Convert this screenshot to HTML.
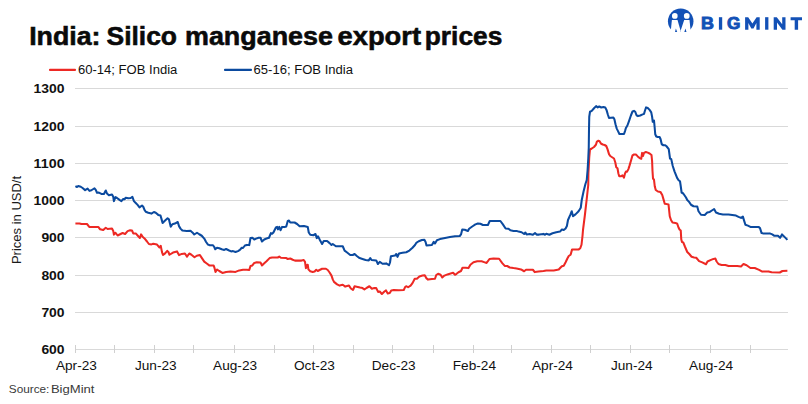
<!DOCTYPE html>
<html><head><meta charset="utf-8"><title>India: Silico manganese export prices</title>
<style>
html,body{margin:0;padding:0;background:#fff;}
body{width:808px;height:404px;overflow:hidden;font-family:"Liberation Sans",sans-serif;}
svg{display:block;position:absolute;left:0;top:0;}
text{font-family:"Liberation Sans",sans-serif;}
</style></head><body>
<svg width="808" height="404" viewBox="0 0 808 404">
<rect width="808" height="404" fill="#fff"/>
<g font-size="25" font-weight="bold" fill="#0a0a0a" stroke="#0a0a0a" stroke-width="0.55">
<text x="29.2" y="44.6" textLength="71.3" lengthAdjust="spacingAndGlyphs">India:</text>
<text x="106.5" y="44.6" textLength="70.5" lengthAdjust="spacingAndGlyphs">Silico</text>
<text x="185" y="44.6" textLength="148" lengthAdjust="spacingAndGlyphs">manganese</text>
<text x="337.5" y="44.6" textLength="83.5" lengthAdjust="spacingAndGlyphs">export</text>
<text x="424.8" y="44.6" textLength="77.5" lengthAdjust="spacingAndGlyphs">prices</text>
</g>
<g stroke="#d9d9d9" stroke-width="1" shape-rendering="crispEdges"><line x1="75" y1="88.5" x2="788.0" y2="88.5"/><line x1="75" y1="126.5" x2="788.0" y2="126.5"/><line x1="75" y1="163.5" x2="788.0" y2="163.5"/><line x1="75" y1="200.5" x2="788.0" y2="200.5"/><line x1="75" y1="237.5" x2="788.0" y2="237.5"/><line x1="75" y1="275.5" x2="788.0" y2="275.5"/><line x1="75" y1="312.5" x2="788.0" y2="312.5"/><line x1="75" y1="349.5" x2="788.0" y2="349.5"/></g>
<g stroke="#d0d0d0" stroke-width="1" shape-rendering="crispEdges"><line x1="75.5" y1="345" x2="75.5" y2="353"/><line x1="114.5" y1="345" x2="114.5" y2="353"/><line x1="154.5" y1="345" x2="154.5" y2="353"/><line x1="193.5" y1="345" x2="193.5" y2="353"/><line x1="234.5" y1="345" x2="234.5" y2="353"/><line x1="274.5" y1="345" x2="274.5" y2="353"/><line x1="313.5" y1="345" x2="313.5" y2="353"/><line x1="353.5" y1="345" x2="353.5" y2="353"/><line x1="392.5" y1="345" x2="392.5" y2="353"/><line x1="433.5" y1="345" x2="433.5" y2="353"/><line x1="473.5" y1="345" x2="473.5" y2="353"/><line x1="511.5" y1="345" x2="511.5" y2="353"/><line x1="551.5" y1="345" x2="551.5" y2="353"/><line x1="590.5" y1="345" x2="590.5" y2="353"/><line x1="630.5" y1="345" x2="630.5" y2="353"/><line x1="669.5" y1="345" x2="669.5" y2="353"/><line x1="710.5" y1="345" x2="710.5" y2="353"/><line x1="750.5" y1="345" x2="750.5" y2="353"/></g>
<g font-size="12.4" font-weight="bold" fill="#111"><text x="33.6" y="93.00" textLength="31" lengthAdjust="spacingAndGlyphs" transform="translate(0,0)">1300</text><text x="33.6" y="131.00" textLength="31" lengthAdjust="spacingAndGlyphs" transform="translate(0,0)">1200</text><text x="33.6" y="168.00" textLength="31" lengthAdjust="spacingAndGlyphs" transform="translate(0,0)">1100</text><text x="33.6" y="205.00" textLength="31" lengthAdjust="spacingAndGlyphs" transform="translate(0,0)">1000</text><text x="33.6" y="242.00" textLength="23.2" lengthAdjust="spacingAndGlyphs" transform="translate(7.8,0)">900</text><text x="33.6" y="280.00" textLength="23.2" lengthAdjust="spacingAndGlyphs" transform="translate(7.8,0)">800</text><text x="33.6" y="317.00" textLength="23.2" lengthAdjust="spacingAndGlyphs" transform="translate(7.8,0)">700</text><text x="33.6" y="354.00" textLength="23.2" lengthAdjust="spacingAndGlyphs" transform="translate(7.8,0)">600</text></g>
<g font-size="12.4" fill="#111"><text transform="translate(76.40,370) scale(1.10,1)" text-anchor="middle">Apr-23</text><text transform="translate(155.74,370) scale(1.10,1)" text-anchor="middle">Jun-23</text><text transform="translate(235.07,370) scale(1.10,1)" text-anchor="middle">Aug-23</text><text transform="translate(314.41,370) scale(1.10,1)" text-anchor="middle">Oct-23</text><text transform="translate(393.74,370) scale(1.10,1)" text-anchor="middle">Dec-23</text><text transform="translate(474.38,370) scale(1.10,1)" text-anchor="middle">Feb-24</text><text transform="translate(552.41,370) scale(1.10,1)" text-anchor="middle">Apr-24</text><text transform="translate(631.75,370) scale(1.10,1)" text-anchor="middle">Jun-24</text><text transform="translate(711.08,370) scale(1.10,1)" text-anchor="middle">Aug-24</text></g>
<text transform="translate(21.3,220) rotate(-90)" font-size="13" fill="#1a1a1a" text-anchor="middle">Prices in USD/t</text>
<line x1="50" y1="69.9" x2="75" y2="69.9" stroke="#ed2924" stroke-width="2.1" stroke-linecap="round"/>
<text x="78" y="74" font-size="13.05" fill="#111">60-14; FOB India</text>
<line x1="225" y1="69.9" x2="251" y2="69.9" stroke="#0b4a9f" stroke-width="2.1" stroke-linecap="round"/>
<text x="253.6" y="74" font-size="13.05" fill="#111">65-16; FOB India</text>
<polyline points="75.40,223.40 79.50,223.40 81.40,224.00 87.00,224.00 89.25,226.90 98.25,226.90 100.10,229.25 103.25,230.00 105.75,227.75 107.60,229.00 112.00,228.60 113.25,230.90 113.90,234.60 115.50,232.75 117.60,235.50 120.10,234.25 122.60,233.00 125.10,234.00 127.60,231.10 130.10,230.25 132.00,230.50 133.25,233.40 135.75,233.40 137.60,235.50 139.90,238.00 141.10,234.40 142.60,236.75 144.50,238.40 147.00,241.50 148.90,244.00 151.40,244.40 153.25,243.75 157.00,244.60 159.50,247.50 160.75,245.90 162.00,252.10 163.00,255.00 165.10,253.40 167.25,250.90 168.40,252.00 169.50,254.75 173.00,252.60 177.00,251.40 179.00,255.10 181.75,253.90 184.90,253.50 187.00,256.60 189.25,253.50 191.10,254.50 194.50,257.25 196.75,255.75 199.90,255.10 201.75,257.90 204.25,261.60 206.75,263.50 209.25,265.40 213.60,265.40 214.50,267.90 215.50,272.00 217.00,269.50 219.25,271.00 222.40,272.90 226.10,272.00 230.50,271.60 235.50,271.90 239.25,270.40 243.00,269.75 246.75,269.75 249.25,270.00 250.50,266.00 252.40,265.40 254.25,262.90 256.75,262.25 260.50,262.60 262.00,265.40 264.00,263.50 266.50,261.25 269.60,258.10 272.10,257.50 277.75,257.50 279.25,256.60 280.90,257.75 285.90,257.90 287.75,259.00 290.25,258.50 292.75,259.75 295.00,260.60 301.50,260.60 303.75,260.00 305.00,261.90 305.90,268.10 306.75,265.25 307.75,264.75 308.40,269.40 310.25,271.25 312.75,271.90 314.60,271.50 316.25,269.75 317.75,271.00 319.60,270.00 322.10,268.75 325.90,268.75 327.75,270.00 329.60,272.50 331.50,275.60 332.75,279.40 334.00,281.90 337.10,284.40 339.60,285.60 342.75,284.75 345.25,286.60 349.00,285.60 350.90,288.50 353.00,290.00 354.60,286.25 357.75,286.90 360.00,287.60 362.50,288.10 364.40,289.40 366.90,287.75 369.40,286.25 371.90,288.75 373.75,288.10 376.25,288.10 378.10,291.90 379.75,291.50 381.90,294.00 384.40,291.50 386.00,290.40 387.75,293.50 389.75,293.10 391.25,290.40 393.75,290.00 398.75,290.25 403.75,290.00 405.25,286.90 406.50,286.25 408.10,287.25 410.60,285.60 412.50,283.10 414.75,278.75 416.90,278.75 419.40,276.50 422.50,275.60 424.75,275.25 426.25,278.10 428.10,279.60 431.90,279.10 435.00,278.75 436.25,275.00 438.10,273.75 440.60,274.75 442.25,277.50 444.40,275.60 447.50,274.40 450.60,273.40 453.10,272.75 455.00,274.75 456.60,273.80 458.50,272.25 461.00,271.00 462.50,267.75 465.40,267.75 468.50,268.10 470.40,264.75 473.50,262.25 477.25,261.25 481.60,261.25 484.10,262.10 486.60,262.90 489.50,259.00 493.50,258.50 499.10,258.75 502.25,263.10 504.75,265.90 507.25,266.00 509.75,267.50 513.50,268.10 516.60,268.40 521.00,269.40 524.10,271.25 526.00,269.75 532.90,269.75 534.75,272.10 538.50,271.60 543.50,270.90 546.25,270.40 553.75,270.40 558.75,269.50 560.60,267.50 561.90,266.25 563.75,265.75 565.60,262.25 567.50,258.25 568.75,256.00 570.60,254.75 572.10,249.40 578.75,249.40 580.25,248.25 581.50,244.75 582.50,236.00 583.00,230.00 584.90,215.00 586.75,198.75 588.25,185.00 588.40,173.50 589.25,157.25 590.00,149.50 591.75,148.50 594.00,147.00 595.90,144.75 596.90,141.60 598.40,140.75 599.60,141.25 600.90,143.50 602.75,144.50 604.60,145.00 606.25,146.00 607.50,149.10 609.00,154.10 610.25,156.00 612.10,157.25 614.00,158.50 615.25,162.25 616.25,167.25 617.50,168.25 618.40,173.50 619.25,176.25 620.90,176.25 622.50,175.40 624.00,177.60 625.00,173.50 625.90,171.60 627.10,171.60 628.40,169.10 629.60,165.40 631.25,159.75 632.50,155.40 634.00,154.50 635.90,154.50 637.75,156.40 639.60,158.10 641.25,158.75 642.10,152.90 643.00,156.00 644.00,152.90 645.90,152.00 647.75,152.60 649.60,153.50 651.50,155.00 652.10,161.00 652.50,171.00 653.00,178.50 654.00,179.75 654.75,186.25 655.75,190.00 657.90,191.50 660.40,191.90 662.25,195.00 663.50,199.40 664.75,203.75 666.60,204.10 668.50,204.40 669.10,210.00 669.75,216.25 671.00,220.00 672.50,222.50 675.40,222.90 677.25,223.75 678.50,227.50 679.50,229.50 680.75,230.50 681.25,239.25 682.00,242.00 683.25,242.40 685.00,246.75 687.25,252.00 689.50,254.25 691.60,256.75 694.10,257.40 696.25,257.75 699.10,261.10 702.25,262.40 706.00,264.25 707.50,261.50 711.00,259.90 713.50,258.90 715.40,258.60 716.60,261.50 718.50,264.00 721.60,264.90 725.40,265.10 728.50,266.10 737.25,265.90 741.00,266.40 743.50,264.00 746.60,265.25 750.40,268.00 754.75,268.00 759.10,269.90 762.25,271.60 768.50,271.40 771.60,272.30 779.80,272.50 782.40,271.00 787.40,270.80" fill="none" stroke="#ed2924" stroke-width="2.05" stroke-linejoin="round" stroke-linecap="butt"/>
<polyline points="75.40,186.10 77.00,187.00 78.25,186.10 80.75,186.75 82.60,188.00 85.10,190.10 87.60,188.60 89.50,190.90 91.40,190.25 94.50,188.25 95.75,189.90 97.00,192.75 98.90,192.60 101.40,193.90 103.90,194.00 105.75,190.50 107.00,193.60 108.90,195.25 112.00,194.50 113.25,196.75 113.90,201.10 115.50,197.10 117.00,198.00 119.50,199.90 121.40,201.10 123.25,199.00 124.50,199.25 125.75,197.75 128.25,198.25 130.75,198.00 132.40,196.75 133.90,201.10 135.75,203.00 137.60,204.90 139.50,207.40 142.00,205.50 143.25,206.75 144.50,209.90 145.75,211.75 148.25,212.75 151.40,213.60 153.90,212.00 155.75,212.75 158.25,214.90 160.50,215.50 161.40,218.60 162.60,223.00 165.10,220.50 167.60,218.25 168.90,219.25 170.75,226.75 172.40,224.25 174.90,223.60 177.75,222.00 179.00,226.10 180.50,228.60 182.40,230.50 186.75,230.90 190.50,230.75 192.40,232.40 194.25,234.50 197.00,232.75 199.25,234.25 201.75,235.75 204.25,238.60 206.10,242.00 208.00,244.60 209.90,245.25 213.00,245.25 214.25,247.00 215.25,249.25 217.00,247.75 219.25,248.25 221.75,249.25 224.25,249.90 226.10,249.00 228.60,250.25 231.10,251.40 233.00,251.10 235.50,252.00 238.00,251.10 239.90,249.90 241.75,247.75 243.00,248.00 244.90,245.50 246.75,244.90 249.25,245.10 250.50,238.00 252.40,237.75 254.25,239.50 256.10,238.60 258.60,237.75 260.50,237.75 262.00,241.50 264.25,239.50 266.50,238.50 269.00,237.75 270.90,233.10 272.10,233.75 273.40,232.50 275.90,227.50 277.10,226.90 278.00,229.40 279.25,226.90 280.50,230.25 282.10,226.90 284.60,227.10 286.25,226.50 287.75,221.00 289.00,220.60 290.25,222.50 294.60,222.50 297.10,224.00 299.60,226.25 304.00,226.00 307.75,226.90 308.75,232.50 310.25,234.75 313.40,235.25 315.50,234.00 316.75,238.10 318.00,236.25 319.60,239.40 322.10,244.00 323.75,241.00 327.10,241.00 329.60,243.10 331.50,245.00 332.75,244.00 335.90,246.25 342.75,246.25 344.60,250.60 347.10,252.50 350.25,255.00 352.75,255.00 354.60,254.00 357.10,256.25 359.60,258.10 362.50,259.00 365.60,260.00 368.75,260.40 370.25,258.10 371.50,260.00 376.25,260.40 377.90,264.00 379.75,261.90 382.50,263.75 386.25,263.40 389.00,265.25 390.00,262.50 390.90,256.25 395.00,255.60 396.25,254.00 397.50,256.90 399.00,253.50 402.50,252.75 406.25,252.25 409.40,250.60 412.50,247.75 415.00,245.00 416.25,242.90 418.75,241.25 421.90,240.00 424.40,239.75 425.60,241.90 426.50,245.40 431.90,245.00 433.75,241.90 435.00,243.50 436.90,240.25 440.00,239.10 445.00,237.90 450.00,237.10 455.00,236.25 459.75,236.00 461.00,234.40 462.25,229.60 464.75,229.75 467.90,231.00 469.10,228.75 472.25,226.50 475.40,224.40 477.90,223.50 480.40,223.75 482.90,225.00 487.90,225.00 489.75,221.00 500.40,221.00 502.90,224.40 505.60,228.50 508.50,228.75 510.40,230.25 513.50,230.90 516.60,230.90 518.50,231.60 521.60,232.25 524.10,234.00 525.40,232.50 526.60,234.40 529.75,234.00 532.90,234.75 535.00,233.10 536.60,234.60 539.10,234.60 543.50,233.90 545.00,234.75 546.25,233.75 549.40,234.75 552.50,233.25 556.25,232.25 560.00,231.60 561.90,229.50 563.75,230.00 565.60,228.50 566.90,226.00 568.00,220.00 570.50,214.40 571.75,211.25 573.00,216.25 575.50,214.40 578.60,211.25 580.75,207.75 581.75,200.00 583.60,191.25 585.50,183.75 586.75,180.00 587.60,170.00 588.30,158.00 588.75,148.00 589.00,129.25 589.25,116.75 590.00,111.75 591.75,110.90 594.00,108.25 596.10,106.10 597.75,107.40 599.25,106.50 601.25,107.50 603.40,107.00 605.25,107.60 606.50,109.90 607.75,114.25 609.00,118.00 610.90,117.75 613.40,117.60 614.40,119.25 615.50,124.25 616.75,128.60 618.00,131.10 619.40,134.00 621.50,133.90 624.00,134.00 625.00,131.10 625.90,128.00 627.40,125.50 629.00,121.10 630.90,115.50 632.50,111.50 634.00,110.90 635.25,111.75 636.50,115.25 638.00,116.10 640.25,115.50 642.10,114.60 644.00,113.90 645.00,110.50 646.10,107.40 647.75,108.00 649.60,109.90 651.25,112.40 652.10,116.75 652.75,121.75 654.00,120.50 654.60,126.75 655.25,134.25 656.25,136.50 657.75,137.00 659.60,137.00 660.60,139.25 661.75,144.25 663.40,145.25 665.25,145.25 666.50,146.25 668.75,149.10 670.00,158.50 671.25,159.10 672.75,166.00 674.60,171.60 677.10,177.90 678.60,180.20 680.00,181.25 680.75,186.25 681.60,192.50 683.25,193.50 686.00,197.50 687.25,200.00 689.10,201.90 691.00,204.75 693.50,206.25 697.25,206.60 698.50,211.25 701.00,214.75 704.75,215.00 707.25,212.50 709.75,211.90 712.25,210.25 714.10,209.10 716.00,212.50 719.10,213.75 722.90,214.40 728.50,214.40 732.25,215.00 736.00,215.60 738.50,216.90 741.00,217.90 742.90,216.60 744.10,220.60 745.40,224.75 747.90,225.60 750.40,226.90 758.50,226.90 760.00,228.10 761.60,233.10 763.50,233.50 769.75,233.40 772.25,234.40 774.10,235.70 778.00,235.80 780.10,237.80 782.00,234.40 785.00,237.40 787.40,239.90" fill="none" stroke="#0b4a9f" stroke-width="2.05" stroke-linejoin="round" stroke-linecap="butt"/>
<g font-size="10.3" fill="#3a3a3a">
<text x="8.8" y="392.6" textLength="40.6" lengthAdjust="spacingAndGlyphs">Source:</text>
<text x="50.9" y="392.6" textLength="43.6" lengthAdjust="spacingAndGlyphs">BigMint</text>
</g>
<g id="logo" fill="#1351b6">
<clipPath id="lc"><rect x="660" y="0" width="40" height="31.9"/></clipPath>
<circle cx="680.7" cy="21.3" r="12.75" clip-path="url(#lc)"/>
<circle cx="674.8" cy="15.9" r="2.85" fill="#fff"/>
<circle cx="686.75" cy="15.9" r="2.85" fill="#fff"/>
<path d="M671.9 20 L677.5 20 L680.6 30.8 L680.6 32.5 L670.6 32.5 Z" fill="#fff"/>
<path d="M684.2 20 L689.5 20 L690.8 32.5 L680.6 32.5 L680.6 30.8 Z" fill="#fff"/>
<path d="M675.0 31.9 L675.9 28.4 L677.2 31.9 Z"/>
<path d="M684.3 31.9 L685.5 28.4 L686.5 31.9 Z"/>
<g font-size="16.9" font-weight="bold" stroke="#1351b6" stroke-width="0.9" text-anchor="middle">
<text transform="translate(707.5,29.25) scale(1.06,1)">B</text>
<text transform="translate(733.8,29.25) scale(1.02,1)">G</text>
</g>
<rect x="718.9" y="17.2" width="3.3" height="12.5"/>
<rect x="765.1" y="17.2" width="3.3" height="12.5"/>
<path d="M745.1 29.7 L745.1 17.2 L748.2 17.2 L752.4 23.6 L756.6 17.2 L759.7 17.2 L759.7 29.7 L756.4 29.7 L756.4 22.9 L753.5 28.4 L751.3 28.4 L748.4 22.9 L748.4 29.7 Z"/>
<path d="M773.7 29.7 L773.7 17.2 L776.8 17.2 L782.2 24.3 L782.2 17.2 L785.5 17.2 L785.5 29.7 L782.4 29.7 L777.0 22.6 L777.0 29.7 Z"/>
<path d="M790.6 17.2 L802.0 17.2 L802.0 20.2 L798.1 20.2 L798.1 29.7 L794.7 29.7 L794.7 20.2 L790.6 20.2 Z"/>
</g>
</svg>
</body></html>
